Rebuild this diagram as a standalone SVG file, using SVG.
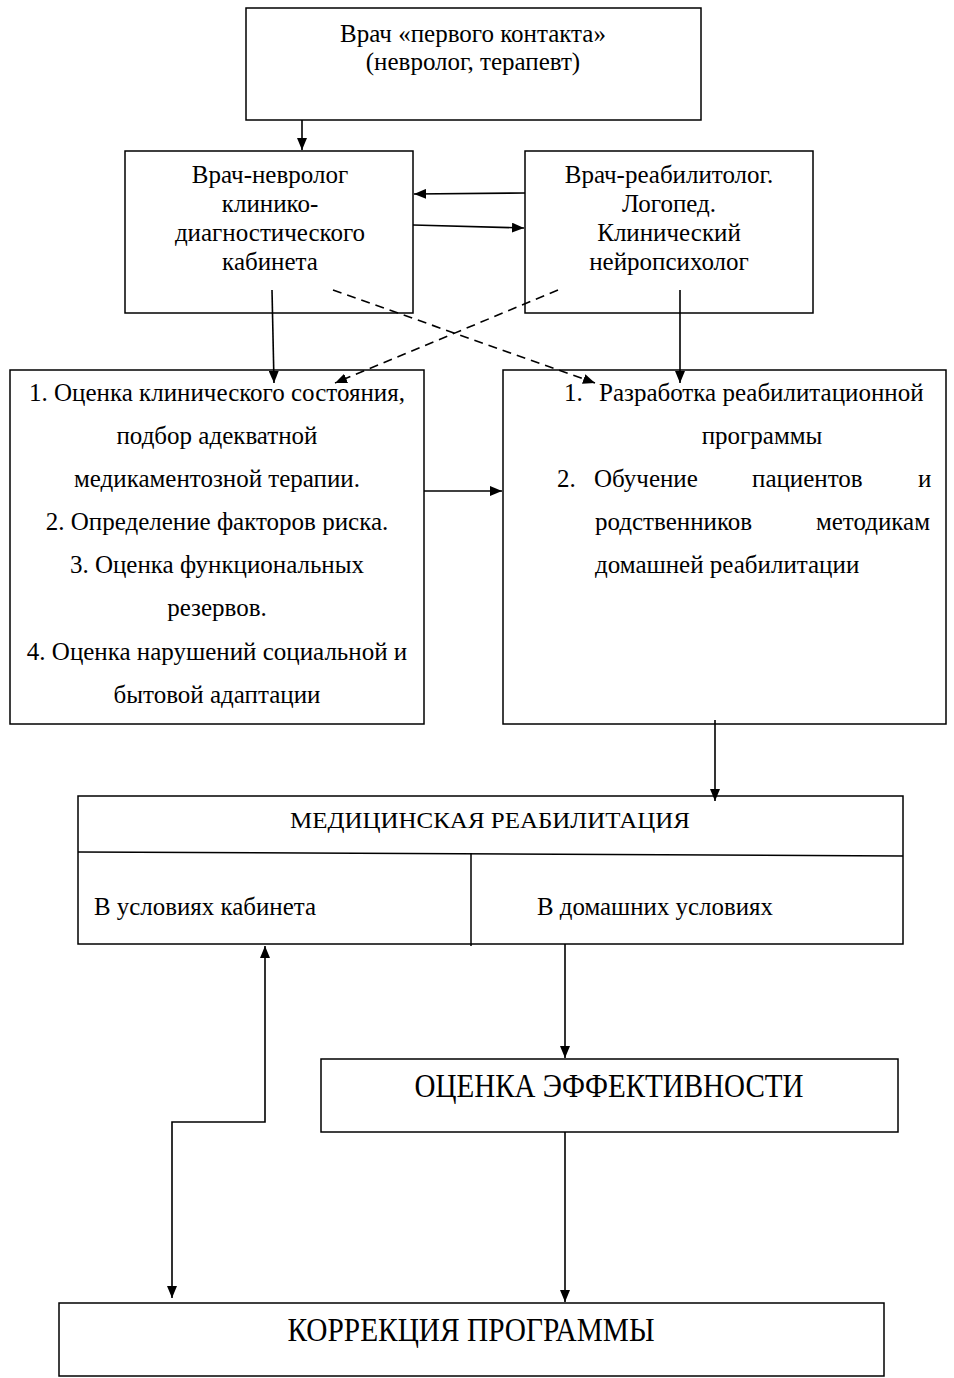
<svg xmlns="http://www.w3.org/2000/svg" width="954" height="1378" viewBox="0 0 954 1378">
<defs>
<marker id="ah" viewBox="0 0 12 10" refX="12" refY="5" markerWidth="12" markerHeight="10" markerUnits="userSpaceOnUse" orient="auto">
<path d="M0,0 L12,5 L0,10 z" fill="#000"/>
</marker>
<marker id="ahs" viewBox="0 0 12 10" refX="0" refY="5" markerWidth="12" markerHeight="10" markerUnits="userSpaceOnUse" orient="auto">
<path d="M12,0 L0,5 L12,10 z" fill="#000"/>
</marker>
</defs>
<style>
rect{fill:#fff;stroke:#000;stroke-width:1.5}
text{font-family:"Liberation Serif","Times New Roman",serif;font-size:25px;fill:#000}
.c{text-anchor:middle}
.big{font-size:33px}
.ln{stroke:#000;stroke-width:1.6;fill:none}
.ds{stroke-dasharray:9,6}
</style>
<rect x="0" y="0" width="954" height="1378" style="stroke:none"/>
<g id="n1">
<rect x="246" y="8" width="455" height="112"/>
<text class="c" x="473" y="42">Врач «первого контакта»</text>
<text class="c" x="473" y="70">(невролог, терапевт)</text>
</g>
<g id="n2">
<rect x="125" y="151" width="288" height="162"/>
<text class="c" x="270" y="183">Врач-невролог</text>
<text class="c" x="270" y="212">клинико-</text>
<text class="c" x="270" y="241">диагностического</text>
<text class="c" x="270" y="270">кабинета</text>
</g>
<g id="n3">
<rect x="525" y="151" width="288" height="162"/>
<text class="c" x="669" y="183">Врач-реабилитолог.</text>
<text class="c" x="669" y="212">Логопед.</text>
<text class="c" x="669" y="241">Клинический</text>
<text class="c" x="669" y="270">нейропсихолог</text>
</g>
<g id="n4">
<rect x="10" y="370" width="414" height="354"/>
<text class="c" x="217" y="401">1. Оценка клинического состояния,</text>
<text class="c" x="217" y="444">подбор адекватной</text>
<text class="c" x="217" y="487">медикаментозной терапии.</text>
<text class="c" x="217" y="530">2. Определение факторов риска.</text>
<text class="c" x="217" y="573">3. Оценка функциональных</text>
<text class="c" x="217" y="616">резервов.</text>
<text class="c" x="217" y="660">4. Оценка нарушений социальной и</text>
<text class="c" x="217" y="703">бытовой адаптации</text>
</g>
<g id="n5">
<rect x="503" y="370" width="443" height="354"/>
<text x="564" y="401">1.</text>
<text x="599" y="401">Разработка реабилитационной</text>
<text class="c" x="762" y="444">программы</text>
<text x="557" y="487">2.</text>
<text x="594" y="487">Обучение</text>
<text x="752" y="487">пациентов</text>
<text x="918" y="487">и</text>
<text x="595" y="530">родственников</text>
<text x="930" y="530" style="text-anchor:end">методикам</text>
<text x="595" y="573">домашней реабилитации</text>
</g>
<g id="n6">
<rect x="78" y="796" width="825" height="148"/>
<line class="ln" x1="78" y1="852" x2="903" y2="856" style="stroke-width:1.5"/>
<line class="ln" x1="471" y1="853" x2="471" y2="946" style="stroke-width:1.5"/>
<text class="c" x="490" y="828" style="font-size:24px" textLength="400" lengthAdjust="spacingAndGlyphs">МЕДИЦИНСКАЯ РЕАБИЛИТАЦИЯ</text>
<text x="94" y="915" textLength="222" lengthAdjust="spacingAndGlyphs">В условиях кабинета</text>
<text x="537" y="915" textLength="236" lengthAdjust="spacingAndGlyphs">В домашних условиях</text>
</g>
<g id="n7">
<rect x="321" y="1059" width="577" height="73"/>
<text class="c big" x="609" y="1097" textLength="389" lengthAdjust="spacingAndGlyphs">ОЦЕНКА ЭФФЕКТИВНОСТИ</text>
</g>
<g id="n8">
<rect x="59" y="1303" width="825" height="73"/>
<text class="c big" x="471" y="1341" textLength="367" lengthAdjust="spacingAndGlyphs">КОРРЕКЦИЯ ПРОГРАММЫ</text>
</g>
<g id="connectors">
<line class="ln" x1="302" y1="120" x2="302" y2="150" marker-end="url(#ah)"/>
<line class="ln" x1="525" y1="193" x2="414" y2="194" marker-end="url(#ah)"/>
<line class="ln" x1="413" y1="225" x2="524" y2="228" marker-end="url(#ah)"/>
<line class="ln" x1="272" y1="290" x2="274" y2="383" marker-end="url(#ah)"/>
<line class="ln" x1="680" y1="290" x2="680" y2="383" marker-end="url(#ah)"/>
<line class="ln ds" x1="333" y1="290" x2="595" y2="383" marker-end="url(#ah)"/>
<line class="ln ds" x1="558" y1="290" x2="335" y2="383" marker-end="url(#ah)"/>
<line class="ln" x1="424" y1="491" x2="502" y2="491" marker-end="url(#ah)"/>
<line class="ln" x1="715" y1="720" x2="715" y2="801" marker-end="url(#ah)"/>
<line class="ln" x1="565" y1="944" x2="565" y2="1058" marker-end="url(#ah)"/>
<line class="ln" x1="565" y1="1132" x2="565" y2="1302" marker-end="url(#ah)"/>
<path class="ln" d="M265,946 L265,1122 L172,1122 L172,1298" marker-start="url(#ahs)" marker-end="url(#ah)"/>
</g>
</svg>
